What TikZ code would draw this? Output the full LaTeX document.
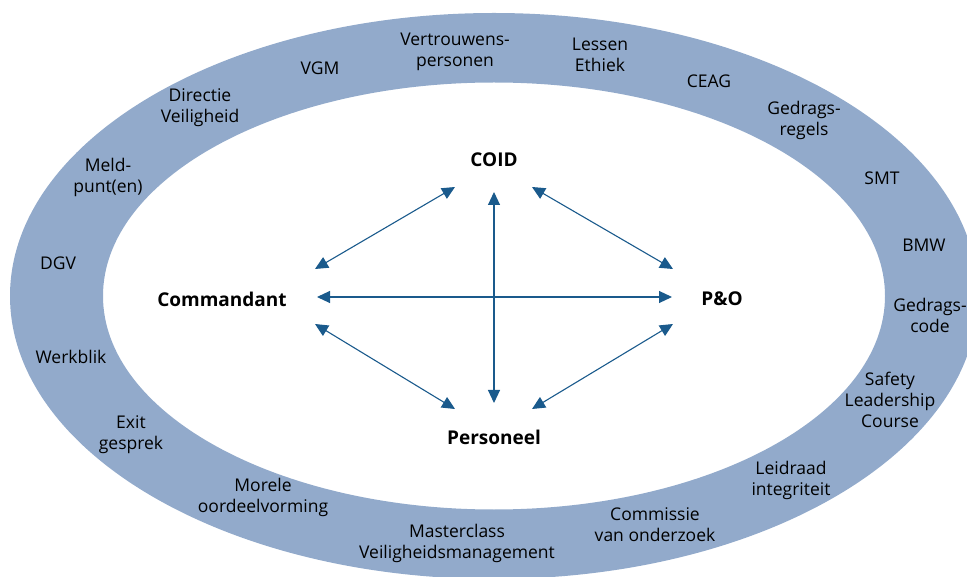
\documentclass[tikz,border=0pt]{standalone}
\usepackage{fontspec}
\setmainfont{Open Sans}
\usetikzlibrary{arrows.meta}
\definecolor{ringblue}{HTML}{92AACB}
\definecolor{arrowblue}{HTML}{1A5A8C}
\tikzset{
  ringtext/.style={align=center, font=\fontsize{17.5}{21}\selectfont, text=black},
  party/.style={font=\fontsize{19}{22}\selectfont\bfseries, text=black},
  link/.style={arrowblue, line width=1.1pt, {Triangle[length=13pt,width=12pt]}-{Triangle[length=13pt,width=12pt]}}
}

\begin{document}
\begin{tikzpicture}[x=1pt,y=-1pt]
    \useasboundingbox (0,0) rectangle (967,577);
    % ring
    \fill[ringblue,even odd rule] (494,296) ellipse [x radius=484, y radius=283]
                                  (494,296) ellipse [x radius=391, y radius=213.5];

    % the four parties
    \node[party] (coid) at (494,160) {COID};
    \node[party] (cmd) at (222,299) {Commandant};
    \node[party] (po) at (722,299) {P\&O};
    \node[party] (pers) at (494,437) {Personeel};

    % arrow ends
    \coordinate (coidS) at (494,192);
    \coordinate (coidW) at (455,187);
    \coordinate (coidE) at (532,187);
    \coordinate (cmdN) at (315,269);
    \coordinate (cmdE) at (317,297);
    \coordinate (cmdS) at (315,324);
    \coordinate (poN) at (673,269);
    \coordinate (poW) at (672,297);
    \coordinate (poS) at (673,324);
    \coordinate (persN) at (494,403);
    \coordinate (persW) at (455,409);
    \coordinate (persE) at (532,409);

    \draw[link] (coidS) -- (persN);
    \draw[link] (cmdE) -- (poW);
    \draw[link] (cmdN) -- (coidW);
    \draw[link] (coidE) -- (poN);
    \draw[link] (cmdS) -- (persW);
    \draw[link] (persE) -- (poS);

    % labels on the ring
    \node[ringtext] (vp) at (455,52) {Vertrouwens-\\personen};
    \node[ringtext] (le) at (600,55) {Lessen\\Ethiek};
    \node[ringtext] (vgm) at (320,68) {VGM};
    \node[ringtext] (ceag) at (709,81) {CEAG};
    \node[ringtext] (dv) at (200,108) {Directie\\Veiligheid};
    \node[ringtext] (gr) at (804,120) {Gedrags-\\regels};
    \node[ringtext] (mp) at (108,177) {Meld-\\punt(en)};
    \node[ringtext] (smt) at (882,178) {SMT};
    \node[ringtext] (bmw) at (924,245) {BMW};
    \node[ringtext] (dgv) at (58,263) {DGV};
    \node[ringtext] (gc) at (930,315) {Gedrags-\\code};
    \node[ringtext] (wb) at (71,357) {Werkblik};
    \node[ringtext] (slc) at (890,400) {Safety\\Leadership\\Course};
    \node[ringtext] (eg) at (131,435) {Exit\\gesprek};
    \node[ringtext] (li) at (791,480) {Leidraad\\integriteit};
    \node[ringtext] (mo) at (263,497) {Morele\\oordeelvorming};
    \node[ringtext] (co) at (655,525) {Commissie\\van onderzoek};
    \node[ringtext] (mv) at (457,543) {Masterclass\\Veiligheidsmanagement};
\end{tikzpicture}
\end{document}
